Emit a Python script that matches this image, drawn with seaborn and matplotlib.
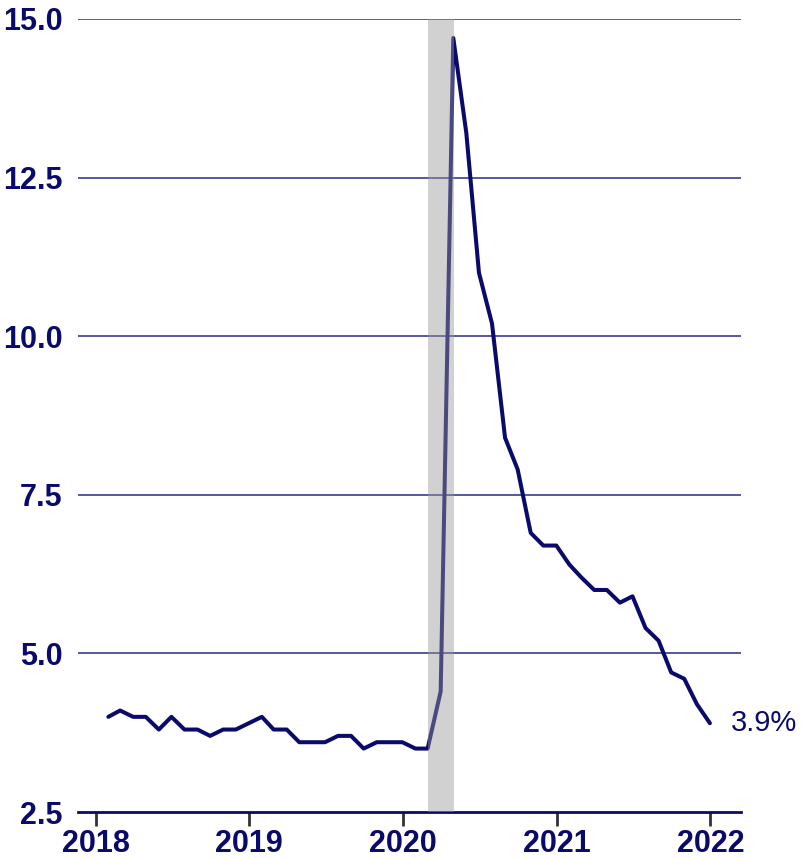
import matplotlib
matplotlib.use("Agg")
import matplotlib.pyplot as plt
import pandas as pd
import seaborn as sns

# Monthly unemployment rate (%), Jan 2018 - Dec 2021, plotted at month end
months = pd.date_range("2018-01-31", "2021-12-31", freq="ME")
rate = [
    4.0, 4.1, 4.0, 4.0, 3.8, 4.0, 3.8, 3.8, 3.7, 3.8, 3.8, 3.9,
    4.0, 3.8, 3.8, 3.6, 3.6, 3.6, 3.7, 3.7, 3.5, 3.6, 3.6, 3.6,
    3.5, 3.5, 4.4, 14.7, 13.2, 11.0, 10.2, 8.4, 7.9, 6.9, 6.7, 6.7,
    6.4, 6.2, 6.0, 6.0, 5.8, 5.9, 5.4, 5.2, 4.7, 4.6, 4.2, 3.9,
]
recession_start = pd.Timestamp("2020-03-01")
recession_end = pd.Timestamp("2020-05-01")
year_ticks = pd.to_datetime(["2018-01-01", "2019-01-01", "2020-01-01",
                             "2021-01-01", "2022-01-01"])
year_labels = ["2018", "2019", "2020", "2021", "2022"]
y_ticks = [2.5, 5.0, 7.5, 10.0, 12.5, 15.0]

NAVY = "#0a0a6b"

sns.set_theme(style="white")
plt.rcParams["font.family"] = ["Liberation Sans", "DejaVu Sans"]

df = pd.DataFrame({"month": months, "rate": rate})

fig = plt.figure(figsize=(8.02, 8.59), dpi=100)
ax = fig.add_axes([0.0973, 0.0547, 0.8267, 0.9232])

for y in y_ticks[1:]:
    ax.axhline(y, color="#2a2a84", lw=1.1, zorder=1)

sns.lineplot(data=df, x="month", y="rate", ax=ax, color=NAVY, lw=2.9,
             zorder=3)

ax.axvspan(recession_start, recession_end, color="#999999", alpha=0.45,
           lw=0, zorder=4)

ax.text(months[-1] + pd.Timedelta(days=50), rate[-1], f"{rate[-1]}%",
        color=NAVY, fontsize=21, va="center", ha="left", clip_on=False)

ax.set_ylim(2.5, 15.0)
ax.set_xlim(pd.Timestamp("2017-11-20"), pd.Timestamp("2022-03-15"))
ax.set_yticks(y_ticks)
ax.set_yticklabels([f"{v:.1f}" for v in y_ticks])
ax.set_xticks(year_ticks)
ax.set_xticklabels(year_labels)
ax.set_xlabel("")
ax.set_ylabel("")

for s in ["top", "right", "left"]:
    ax.spines[s].set_visible(False)
ax.spines["bottom"].set_color(NAVY)
ax.spines["bottom"].set_linewidth(2.0)

ax.tick_params(axis="y", left=False, length=0, pad=11, labelsize=22,
               labelcolor=NAVY)
ax.tick_params(axis="x", bottom=True, length=10, width=2.0, color="#333333",
               pad=2, labelsize=22, labelcolor=NAVY, direction="out")
for lbl in ax.get_xticklabels() + ax.get_yticklabels():
    lbl.set_fontweight("bold")

fig.savefig("out.png", dpi=100)
